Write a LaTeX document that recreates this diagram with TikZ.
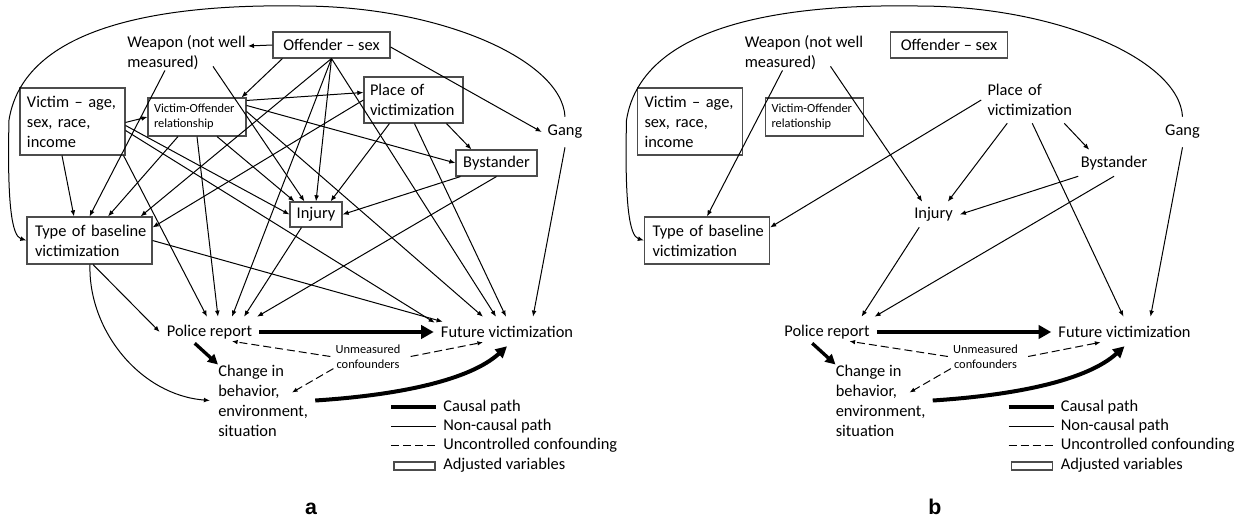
\documentclass[tikz,border=0pt]{standalone}
\usepackage{fontspec}
\setmainfont{Carlito}
\newfontfamily\arialfont{Liberation Sans}
\usetikzlibrary{arrows.meta,calc}
\hyphenpenalty=10000
\exhyphenpenalty=10000
\newcommand\mfont{\fontsize{12.3pt}{15pt}\selectfont}
\newcommand\sfont{\fontsize{9.3pt}{11pt}\selectfont}
\newcommand\sfontb{\fontsize{9.3pt}{11.25pt}\selectfont}
\tikzset{
  txt/.style={font=\mfont, inner sep=0pt, align=left},
  bx/.style={font=\mfont, draw=black!70, line width=0.8pt, align=left, inner ysep=0pt},
  nb/.style={font=\mfont, draw=none, align=left, inner ysep=0pt},
  lnk/.style={line width=0.75pt, -{Latex[length=4.6pt,width=3.6pt]}},
  conf/.style={line width=0.75pt, dash pattern=on 6pt off 3pt, -{Latex[length=4.2pt,width=3.4pt]}},
  causal/.style={line width=3.7pt, -{Triangle[length=9.5pt,width=10pt]}},
  causalb/.style={line width=2.5pt, -{Triangle[length=7.5pt,width=7.5pt]}},
  causalc/.style={line width=3pt, -{Triangle[length=8.5pt,width=8.5pt]}},
  lab/.style={font=\arialfont\bfseries\fontsize{16pt}{18pt}\selectfont, anchor=base, inner sep=0pt},
}
% nodes of one panel: #1 prefix, #2 style of place/bystander/injury
\newcommand\panelnodes[2]{%
  \node[bx, minimum width=87.75pt, minimum height=19.5pt, align=center] (#1off) at (331.5,45) {Offender – sex};
  \node[txt, anchor=west] (#1wea) at (127,53) {Weapon (not well\\measured)};
  \node[bx, text width=70.25pt, inner xsep=4.25pt, minimum height=50.25pt] (#1vic) at (72.5,121.5) {\hspace*{1pt}Victim – age,\\\hspace*{1pt}sex, race,\\\hspace*{1pt}income};
  \node[bx, font=\sfont, text width=66.5pt, inner xsep=3.5pt, minimum height=28.5pt] (#1vo) at (197,117) {\hspace*{1pt}Victim-Offender\\\hspace*{1pt}relationship};
  \node[#2, text width=67.25pt, inner xsep=3.5pt, minimum height=34.5pt] (#1pla) at (413.5,100) {\hspace*{1pt}Place of\\\hspace*{1pt}victimization};
  \node[#2, minimum width=60.75pt, minimum height=19.5pt, align=center] (#1bys) at (496.5,163) {Bystander};
  \node[#2, minimum width=39pt, minimum height=18.75pt, align=center] (#1inj) at (316,214.5) {Injury};
  \node[bx, text width=85.75pt, inner xsep=4pt, minimum height=35.25pt] (#1typ) at (89.5,240.5) {\hspace*{2pt}Type of baseline\\\hspace*{2pt}victimization};
  \node[txt, align=center, minimum width=34.5pt, minimum height=22.5pt] (#1gang) at (565,132) {Gang};
  \node[txt, align=center, minimum width=74.25pt, minimum height=22.5pt] (#1pol) at (209.5,332) {Police report};
  \node[txt, align=center, minimum width=109.5pt, minimum height=22.5pt] (#1fut) at (507,332) {Future victimization};
  \node[txt, anchor=west] (#1chg) at (218,400.5) {Change in\\behavior,\\environment,\\situation};
  \node[txt, font=\sfontb, align=center] (#1unm) at (368,356.5) {Unmeasured\\confounders};
  % legend
  \draw[line width=3pt] (391,407) -- (436,407);
  \draw[line width=0.75pt] (391,426) -- (436,426);
  \draw[line width=0.75pt, dash pattern=on 6pt off 3pt] (391,445) -- (436,445);
  \node[draw=black!70, line width=0.8pt, minimum width=30.75pt, minimum height=6pt, inner sep=0pt] (#1lbox) at (414.5,466) {};
  \node[txt, anchor=west] (#1la) at (443,407) {Causal path};
  \node[txt, anchor=west] (#1lb) at (443,426) {Non-causal path};
  \node[txt, anchor=west] (#1lc) at (443,445) {Uncontrolled confounding};
  \node[txt, anchor=west] (#1ld) at (443,465) {Adjusted variables};
}
% connectors shared by both panels
\newcommand\paneledges[1]{%
  \draw[lnk] ($(#1wea.south west)+(38,0)$) -- (#1typ.north);
  \draw[lnk] ($(#1wea.south west)+(86,-4)$) -- ($(#1inj.north west)+(15,0)$);
  \draw[lnk] (#1pla.west) -- ($(#1typ.north east)+(0,11)$);
  \draw[lnk] ($(#1pla.south west)+(26,0)$) -- ($(#1inj.north east)+(-12,0)$);
  \draw[lnk] ($(#1pla.south west)+(51,0)$) -- ($(#1fut.north)+(-1,0)$);
  \draw[lnk] ($(#1pla.south west)+(83,0)$) -- ($(#1bys.north west)+(16,0)$);
  \draw[lnk] ($(#1bys.south west)+(5,0)$) -- (#1inj.east);
  \draw[lnk] (#1bys.south) -- ($(#1pol.north)+(47.5,0)$);
  \draw[lnk] ($(#1inj.south west)+(12,0)$) -- ($(#1pol.north)+(34.5,0)$);
  \draw[lnk] (#1gang.south) -- ($(#1fut.north)+(26,0)$);
  \draw[lnk] (#1gang.north) .. controls (562,60) and (440,6) .. (300,6)
     .. controls (180,4) and (25,20) .. (9,120)
     .. controls (7,205) and (12,236) .. (#1typ.west);
  \draw[causal] (#1pol.east) -- (#1fut.west);
  \draw[causalb] ($(#1pol.south west)+(35,-4)$) -- (#1chg.north west);
  \draw[causalc] ($(#1chg.east)+(7,0)$) .. controls (400,395) and (470,380) .. ($(#1fut.south)+(0,-1)$);
  \draw[conf] ($(#1unm.west)+(-5,0)$) -- ($(#1pol.south)+(22.5,-6)$);
  \draw[conf] ($(#1unm.east)+(10,0)$) -- ($(#1fut.south)+(-24,-5)$);
  \draw[conf] ($(#1unm.south west)+(-2,0)$) -- ($(#1chg.west)+(74,-8)$);
}
\begin{document}
\begin{tikzpicture}[x=0.75pt, y=-0.75pt]
\fill[white] (0,0) rectangle (1256,521);
\useasboundingbox (0,0) rectangle (1256,521);
% ---------------- panel a ----------------
\panelnodes{a}{bx}
\paneledges{a}
\draw[lnk] (aoff.west) -- ($(awea.east)+(2,-7)$);
\draw[lnk] ($(aoff.south west)+(10,0)$) -- ($(avo.north east)+(-5,0)$);
\draw[lnk] (aoff.south) -- ($(atyp.north east)+(-12,0)$);
\draw[lnk] (aoff.south) -- ($(apol.north)+(22.5,0)$);
\draw[lnk] (aoff.south) -- (ainj.north);
\draw[lnk] (aoff.south) -- ($(afut.north)+(-11,0)$);
\draw[lnk] ($(aoff.east)+(0,2)$) -- (agang.west);
\draw[lnk] ($(avic.north east)+(0,35)$) -- (avo.west);
\draw[lnk] ($(avic.north east)+(0,38)$) -- (ainj.west);
\draw[lnk] ($(avic.north east)+(0,43)$) -- ($(afut.north west)+(1,6)$);
\draw[lnk] ($(avic.south east)+(-2,0)$) -- ($(apol.north)+(-2.5,0)$);
\draw[lnk] ($(avic.south)+(-10.5,0)$) -- ($(atyp.north)+(-15.5,0)$);
\draw[lnk] ($(avo.south)+(-19,0)$) -- ($(atyp.north)+(18.5,0)$);
\draw[lnk] (avo.south) -- ($(apol.north)+(8.5,0)$);
\draw[lnk] ($(avo.south)+(20,0)$) -- ($(ainj.north west)+(5,0)$);
\draw[lnk] ($(avo.north east)+(0,3)$) -- ($(apla.north west)+(0,16)$);
\draw[lnk] ($(avo.north east)+(0,8)$) -- (abys.west);
\draw[lnk] ($(avo.north east)+(0,14)$) -- ($(afut.north)+(-24,0)$);
\draw[lnk] (atyp.east) -- ($(afut.north west)+(9,5)$);
\draw[lnk] ($(atyp.south)+(3.5,0)$) -- (apol.west);
\draw[lnk] ($(atyp.south)+(0.5,0)$) .. controls (88,330) and (140,395) .. ($(achg.west)+(-8,0)$);
\node[lab] (laba) at (311,514) {a};
% ---------------- panel b ----------------
\begin{scope}[shift={(617.5,0)}]
\panelnodes{b}{nb}
\paneledges{b}
\node[lab] (labb) at (317.5,514) {b};
\end{scope}
\end{tikzpicture}
\end{document}
